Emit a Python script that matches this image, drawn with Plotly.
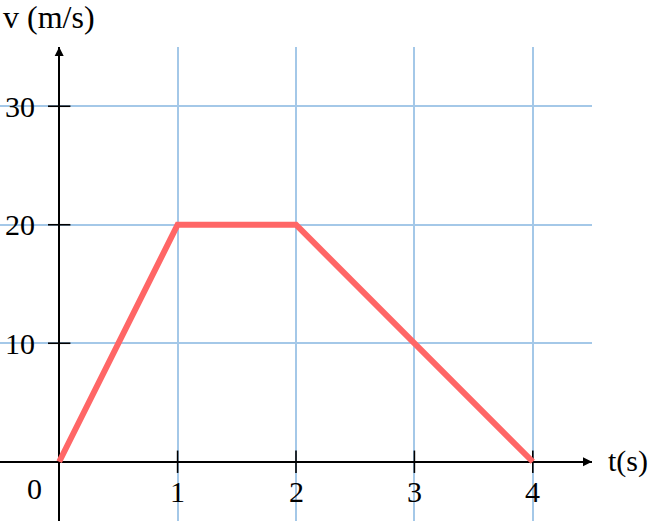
import plotly.graph_objects as go

# Data
t_values = [0, 1, 2, 4]
v_values = [0, 20, 20, 0]
x_ticks = [1, 2, 3, 4]
x_tick_labels = ["1", "2", "3", "4"]
y_ticks = [10, 20, 30]
y_tick_labels = ["10", "20", "30"]
x_title = "t(s)"
y_title = "v (m/s)"

FONT = dict(family="Liberation Serif", size=30, color="black")
RED = "#ff6666"
GRID = "#a4c8e8"

fig = go.Figure()

# tick marks on the axes
fig.add_trace(go.Scatter(
    x=x_ticks, y=[0] * len(x_ticks), mode="markers",
    marker=dict(symbol="line-ns", size=16, line=dict(color="black", width=1.6)),
    hoverinfo="skip", showlegend=False))
fig.add_trace(go.Scatter(
    x=[0] * len(y_ticks), y=y_ticks, mode="markers",
    marker=dict(symbol="line-ew", size=16, line=dict(color="black", width=1.6)),
    hoverinfo="skip", showlegend=False))

# velocity line
fig.add_trace(go.Scatter(
    x=t_values, y=v_values, mode="lines",
    line=dict(color=RED, width=6), hoverinfo="skip", showlegend=False))

annotations = []
for xv, lab in zip(x_ticks, x_tick_labels):
    annotations.append(dict(x=xv, y=0, xref="x", yref="y", text=lab, showarrow=False,
                            xanchor="center", yanchor="middle", yshift=-30, font=FONT))
for yv, lab in zip(y_ticks, y_tick_labels):
    annotations.append(dict(x=0, y=yv, xref="x", yref="y", text=lab, showarrow=False,
                            xanchor="right", yanchor="middle", xshift=-22, font=FONT))
annotations.append(dict(x=0, y=0, xref="x", yref="y", text="0", showarrow=False,
                        xanchor="right", yanchor="middle", xshift=-15, yshift=-27, font=FONT))
# axis titles
annotations.append(dict(x=4.5, y=0, xref="x", yref="y", text=x_title, showarrow=False,
                        xanchor="left", yanchor="middle", xshift=14, yshift=1, font=FONT))
annotations.append(dict(x=0, y=1, xref="paper", yref="paper", text=y_title, showarrow=False,
                        xanchor="left", yanchor="bottom", xshift=1, yshift=10,
                        font=dict(family="Liberation Serif", size=32, color="black")))
# arrow heads
annotations.append(dict(x=4.5, y=0, xref="x", yref="y", ax=4.3, ay=0, axref="x", ayref="y",
                        text="", showarrow=True, arrowhead=2, arrowsize=1.2, arrowwidth=1.5,
                        arrowcolor="black"))
annotations.append(dict(x=0, y=35, xref="x", yref="y", ax=0, ay=33, axref="x", ayref="y",
                        text="", showarrow=True, arrowhead=2, arrowsize=1.2, arrowwidth=1.5,
                        arrowcolor="black"))

fig.update_layout(
    width=658, height=521,
    margin=dict(l=0, r=66, t=47, b=0),
    paper_bgcolor="white", plot_bgcolor="white",
    annotations=annotations,
    xaxis=dict(range=[-0.5, 4.5], tick0=0, dtick=1, showgrid=True, gridcolor=GRID,
               gridwidth=1.5, zeroline=True, zerolinecolor="black", zerolinewidth=1.6,
               showticklabels=False, ticks="", showline=False, fixedrange=True),
    yaxis=dict(range=[-5, 35], tick0=0, dtick=10, showgrid=True, gridcolor=GRID,
               gridwidth=1.5, zeroline=True, zerolinecolor="black", zerolinewidth=1.6,
               showticklabels=False, ticks="", showline=False, fixedrange=True),
)

fig.write_html("out.html", config={"displayModeBar": False},
               post_script="document.body.style.margin='0';document.body.style.overflow='hidden';")
